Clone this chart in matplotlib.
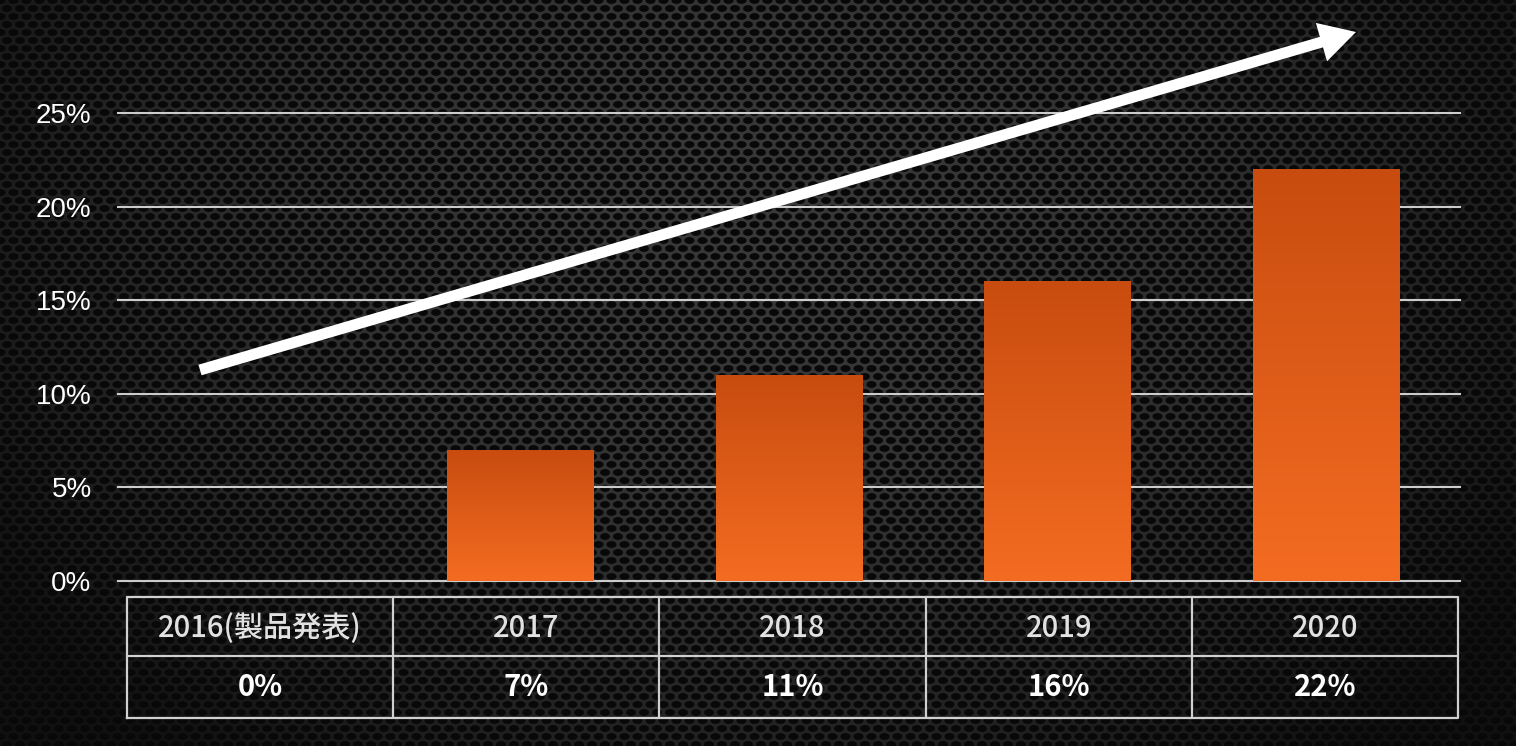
import numpy as np
import matplotlib
matplotlib.use("Agg")
import matplotlib.pyplot as plt
from matplotlib.patches import FancyArrow

# data
years = ["2016(製品発表)", "2017", "2018", "2019", "2020"]
shares = [0, 7, 11, 16, 22]
share_labels = ["0%", "7%", "11%", "16%", "22%"]
yticks = [0, 5, 10, 15, 20, 25]

W, H = 1516, 746
fig = plt.figure(figsize=(W / 100, H / 100), dpi=100)
cjk = ["Noto Sans CJK JP", "DejaVu Sans"]

# background: dark perforated metal with vignette
bg = fig.add_axes([0, 0, 1, 1], zorder=0)
yy, xx = np.mgrid[0:H, 0:W].astype(float)
px, py = 13.0, 8.0
dmin = np.full(xx.shape, 99.0)
for dr in (0, 1):
    r = np.floor(yy / py) + dr
    off = (r % 2) * px / 2
    cx = np.round((xx - off) / px) * px + off
    cy = r * py
    d = ((xx - cx) / 5.0) ** 2 + ((yy - cy) / 3.4) ** 2
    dmin = np.minimum(dmin, d)
holes = np.clip((1.25 - dmin) / 0.5, 0, 1)
nx = (xx / W - 0.5) / 0.5
ny = (yy / H - 0.3) / 0.7
vign = np.clip(1 - 0.5 * nx ** 2 - 0.4 * ny ** 2, 0.3, 1)
surf = 0.22 * vign
val = surf * (1 - holes) + 0.035 * holes
bg.imshow(np.dstack([val, val, val]), extent=(0, W, H, 0), aspect="auto")
bg.set_xlim(0, W)
bg.set_ylim(H, 0)
bg.axis("off")

# main bar chart
ax = fig.add_axes([118 / W, 165 / H, 1342 / W, 468 / H], zorder=2)
ax.patch.set_alpha(0)
x = np.arange(len(years))
for t in yticks:
    ax.axhline(t, color="#cccccc", lw=1.5, zorder=1, clip_on=False)
bars = ax.bar(x, shares, width=0.545, color="none", zorder=2)
grad = np.linspace(0, 1, 256).reshape(-1, 1)
cmap = matplotlib.colors.LinearSegmentedColormap.from_list("og", ["#f46c22", "#c84c0f"])
for b in bars:
    if b.get_height() <= 0:
        continue
    im = ax.imshow(grad, cmap=cmap, origin="lower", aspect="auto", zorder=3,
                   extent=(b.get_x(), b.get_x() + b.get_width(), 0, b.get_height()))
    im.set_clip_path(b)
ax.set_xlim(-0.5, 4.5)
ax.set_ylim(0, 25)
ax.set_xticks([])
ax.set_yticks(yticks)
ax.set_yticklabels([f"{t}%" for t in yticks], color="white", fontsize=20,
                   family="Liberation Sans")
ax.tick_params(axis="y", length=0, pad=19)
for s in ax.spines.values():
    s.set_visible(False)

# table under the chart
tb = fig.add_axes([127 / W, 28 / H, 1331 / W, 121 / H], zorder=2)
tb.patch.set_alpha(0)
tb.set_xlim(0, 5)
tb.set_ylim(0, 2)
tb.axis("off")
mid = 62 / 121 * 2
lc = "#d0d0d0"
tb.plot([0, 5, 5, 0, 0], [0, 0, 2, 2, 0], color=lc, lw=1.6, clip_on=False)
tb.plot([0, 5], [mid, mid], color=lc, lw=1.6)
for i in range(1, 5):
    tb.plot([i, i], [0, 2], color=lc, lw=1.6)
for i, (yr, lab) in enumerate(zip(years, share_labels)):
    tb.text(i + 0.5, (mid + 2) / 2 - 0.04, yr, ha="center", va="center", color="#e2e2e2",
            fontsize=21, fontweight="medium", family=cjk)
    tb.text(i + 0.5, mid / 2, lab, ha="center", va="center", color="white",
            fontsize=21, fontweight="bold", family=cjk)

# trend arrow
ov = fig.add_axes([0, 0, 1, 1], zorder=4)
ov.patch.set_alpha(0)
ov.set_xlim(0, W)
ov.set_ylim(H, 0)
ov.axis("off")
x0, y0, x1, y1 = 200, 370, 1356, 32
ov.add_patch(FancyArrow(x0, y0, x1 - x0, y1 - y0, width=11, head_width=40,
                        head_length=36, length_includes_head=True,
                        color="white", lw=0))

fig.savefig("out.png", dpi=100)
